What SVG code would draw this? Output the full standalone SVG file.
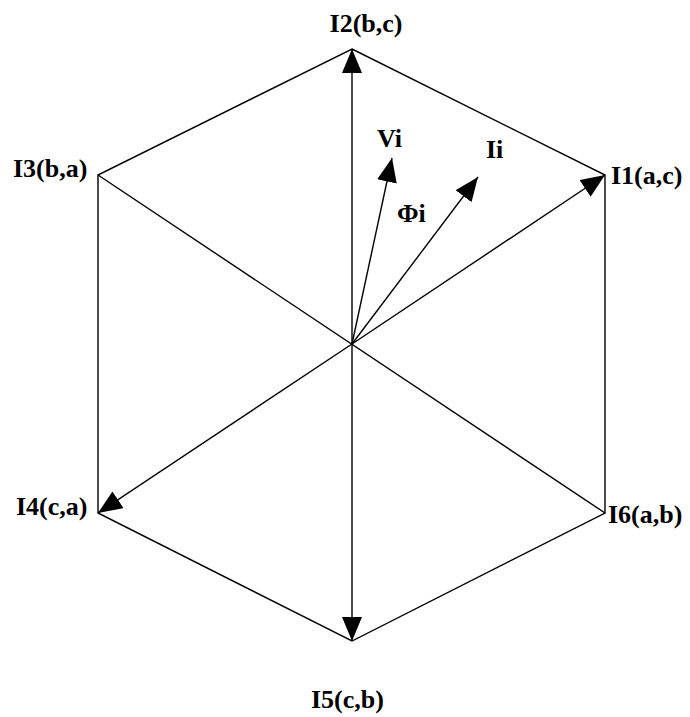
<svg xmlns="http://www.w3.org/2000/svg" width="690" height="717" viewBox="0 0 690 717">
<defs>
<marker id="ah" markerUnits="userSpaceOnUse" markerWidth="24" markerHeight="20" viewBox="0 0 24 20" refX="24" refY="10" orient="auto-start-reverse">
<path d="M0,0 L24,10 L0,20 Z" fill="#000"/>
</marker>
<style>
.ln{stroke:#000;stroke-width:1.4;fill:none}
.lb{font-family:"Liberation Serif","Times New Roman",serif;font-weight:bold;font-size:26px;fill:#000}
</style>
</defs>
<rect width="690" height="717" fill="#fff"/>
<g id="hexagon">
<polygon class="ln" points="352,49 605,175 605,513 352,641 98,513 98,175"/>
<line class="ln" x1="98" y1="175" x2="605" y2="513"/>
</g>
<g id="connectors">
<line class="ln" x1="352" y1="49" x2="352" y2="641" marker-start="url(#ah)" marker-end="url(#ah)"/>
<line class="ln" x1="352" y1="344" x2="605" y2="175" marker-end="url(#ah)"/>
<line class="ln" x1="352" y1="344" x2="98" y2="513" marker-end="url(#ah)"/>
<line class="ln" x1="352" y1="344" x2="392" y2="158" marker-end="url(#ah)"/>
<line class="ln" x1="352" y1="344" x2="478" y2="177" marker-end="url(#ah)"/>
</g>
<g id="I1"><text class="lb" x="611" y="184">I1(a,c)</text></g>
<g id="I2"><text class="lb" x="366" y="32" text-anchor="middle">I2(b,c)</text></g>
<g id="I3"><text class="lb" x="13" y="177">I3(b,a)</text></g>
<g id="I4"><text class="lb" x="16" y="515">I4(c,a)</text></g>
<g id="I5"><text class="lb" x="311" y="708">I5(c,b)</text></g>
<g id="I6"><text class="lb" x="608" y="523">I6(a,b)</text></g>
<g id="Vi"><text class="lb" x="377" y="147">Vi</text></g>
<g id="Ii"><text class="lb" x="486" y="158">Ii</text></g>
<g id="Phi"><text class="lb" x="397" y="222">Φi</text></g>
</svg>
